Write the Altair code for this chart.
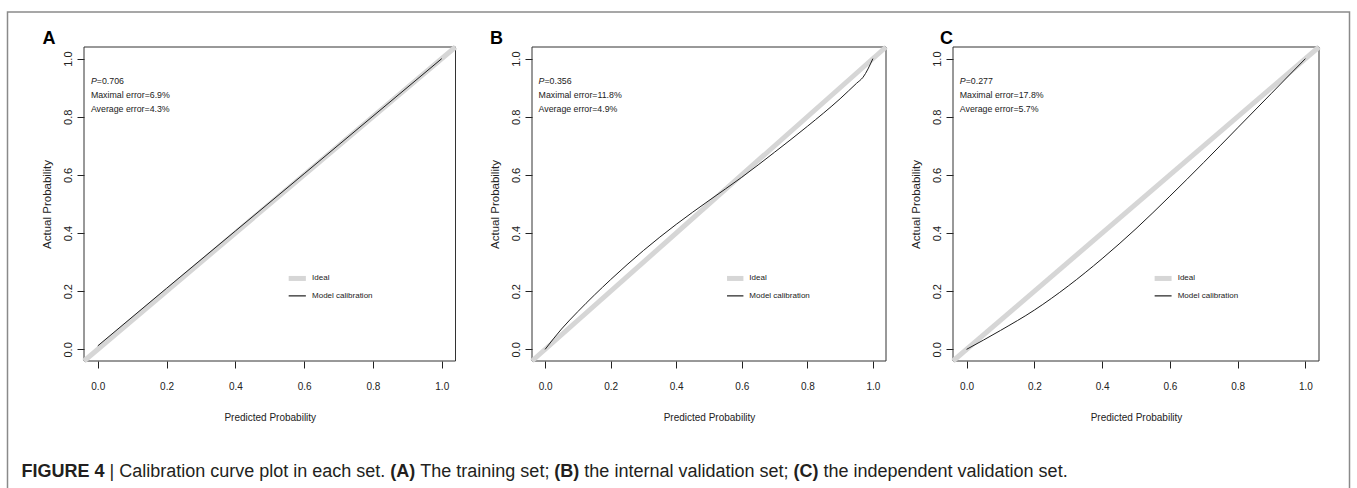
import altair as alt
import pandas as pd

# ---------------- data ----------------
panel_letters = ["A", "B", "C"]
p_values = ["0.706", "0.356", "0.277"]
max_errors = ["6.9%", "11.8%", "17.8%"]
avg_errors = ["4.3%", "4.9%", "5.7%"]

# model calibration curves (predicted, actual)
a_pred = [0.0, 0.2, 0.4, 0.6, 0.8, 1.0]
a_act = [0.012, 0.21, 0.407, 0.604, 0.802, 1.0]

b_pred = [0.0, 0.05, 0.1, 0.2, 0.3, 0.4, 0.5, 0.6, 0.7, 0.8, 0.9, 0.95, 0.97, 1.0]
b_act = [0.0, 0.07, 0.13, 0.24, 0.34, 0.43, 0.512, 0.592, 0.678, 0.767, 0.862, 0.915, 0.936, 1.0]

c_pred = [0.0, 0.1, 0.2, 0.3, 0.4, 0.5, 0.6, 0.7, 0.8, 0.9, 1.0]
c_act = [0.0, 0.065, 0.135, 0.218, 0.312, 0.415, 0.527, 0.643, 0.762, 0.881, 1.0]

ideal_pred = [-0.04, 1.04]
ideal_act = [-0.04, 1.04]

tick_values = [0.0, 0.2, 0.4, 0.6, 0.8, 1.0]
legend_labels = ["Ideal", "Model calibration"]
x_title = "Predicted Probability"
y_title = "Actual Probability"

caption_parts = [
    ("FIGURE 4", True),
    (" | Calibration curve plot in each set. ", False),
    ("(A)", True),
    (" The training set; ", False),
    ("(B)", True),
    (" the internal validation set; ", False),
    ("(C)", True),
    (" the independent validation set.", False),
]

# ---------------- layout ----------------
W, H = 1357, 488
DOMAIN = [-0.04, 1.04]
X_RANGES = [[84, 455.5], [532, 886], [953, 1319]]
Y_RANGE = [361, 47]
LETTER_POS = [(42.5, 43.5), (490, 43.5), (940, 43.5)]
ANNOT_X = -0.02
ANNOT_Y = [0.922, 0.874, 0.827]
LEG_SW_X = [0.555, 0.605]
LEG_TXT_X = 0.623
LEG_Y = [0.244, 0.184]

SANS = "Liberation Sans, Arial, sans-serif"
INK = "#222222"


def x_enc(field, xr):
    axis = alt.Axis(
        orient="bottom", offset=-(H - Y_RANGE[0]), values=tick_values, format=".1f",
        domain=False, grid=False, tickSize=7, tickColor=INK, tickWidth=1,
        labelFont=SANS, labelFontSize=10, labelColor=INK, labelBaseline="middle",
        labelPadding=18, labelFlush=False, labelOverlap=False,
        title=x_title, titleFont=SANS, titleFontSize=10, titleFontWeight="normal",
        titleColor=INK, titleY=56, titleBaseline="middle",
    )
    return alt.X(f"{field}:Q", scale=alt.Scale(domain=DOMAIN, range=xr, nice=False, zero=False),
                 axis=axis)


def y_enc(field, xr):
    axis = alt.Axis(
        orient="left", offset=-xr[0], values=tick_values, format=".1f",
        domain=False, grid=False, tickSize=7, tickColor=INK, tickWidth=1,
        labelFont=SANS, labelFontSize=11, labelColor=INK, labelAngle=270,
        labelAlign="center", labelBaseline="middle", labelPadding=9,
        labelFlush=False, labelOverlap=False,
        title=y_title, titleFont=SANS, titleFontSize=11.5, titleFontWeight="normal",
        titleColor=INK, titleAngle=270, titleX=-36.5, titleBaseline="middle",
    )
    return alt.Y(f"{field}:Q", scale=alt.Scale(domain=DOMAIN, range=Y_RANGE, nice=False, zero=False),
                 axis=axis)


def panel(i, pred, act):
    xr = X_RANGES[i]
    box_df = pd.DataFrame({"x": [DOMAIN[0]], "x1": [DOMAIN[1]], "y": [DOMAIN[0]], "y1": [DOMAIN[1]]})
    box = alt.Chart(box_df).mark_rect(fillOpacity=0, stroke="#333333", strokeWidth=1).encode(
        x=x_enc("x", xr), x2="x1:Q", y=y_enc("y", xr), y2="y1:Q"
    )
    ideal = alt.Chart(pd.DataFrame({"x": ideal_pred, "y": ideal_act})).mark_line(
        color="#d6d6d6", strokeWidth=5, strokeCap="butt"
    ).encode(x=x_enc("x", xr), y=y_enc("y", xr))
    model = alt.Chart(pd.DataFrame({"x": pred, "y": act})).mark_line(
        color="#1e1e1e", strokeWidth=1, interpolate="monotone"
    ).encode(x=x_enc("x", xr), y=y_enc("y", xr))

    p_df = pd.DataFrame({"x": [ANNOT_X], "y": [ANNOT_Y[0]], "t": ["P"], "v": ["=" + p_values[i]]})
    p_letter = alt.Chart(p_df).mark_text(align="left", baseline="middle", font=SANS, fontSize=8.8,
                                         fontStyle="italic", color=INK).encode(
        x=x_enc("x", xr), y=y_enc("y", xr), text="t:N")
    p_val = alt.Chart(p_df).mark_text(align="left", baseline="middle", font=SANS, fontSize=8.8,
                                      dx=5.9, color=INK).encode(
        x=x_enc("x", xr), y=y_enc("y", xr), text="v:N")
    err_df = pd.DataFrame({
        "x": [ANNOT_X, ANNOT_X], "y": ANNOT_Y[1:],
        "t": ["Maximal error=" + max_errors[i], "Average error=" + avg_errors[i]],
    })
    errs = alt.Chart(err_df).mark_text(align="left", baseline="middle", font=SANS, fontSize=8.8,
                                       color=INK).encode(
        x=x_enc("x", xr), y=y_enc("y", xr), text="t:N")

    sw_ideal = alt.Chart(pd.DataFrame({"x": [LEG_SW_X[0]], "x2": [LEG_SW_X[1]], "y": [LEG_Y[0]]})).mark_rule(
        color="#d6d6d6", strokeWidth=5).encode(x=x_enc("x", xr), x2="x2:Q", y=y_enc("y", xr))
    sw_model = alt.Chart(pd.DataFrame({"x": [LEG_SW_X[0]], "x2": [LEG_SW_X[1]], "y": [LEG_Y[1]]})).mark_rule(
        color="#1e1e1e", strokeWidth=1.2).encode(x=x_enc("x", xr), x2="x2:Q", y=y_enc("y", xr))
    leg_txt = alt.Chart(pd.DataFrame({"x": [LEG_TXT_X] * 2, "y": LEG_Y, "t": legend_labels})).mark_text(
        align="left", baseline="middle", font=SANS, fontSize=8, color=INK).encode(
        x=x_enc("x", xr), y=y_enc("y", xr), text="t:N")

    return alt.layer(box, ideal, model, p_letter, p_val, errs, sw_ideal, sw_model, leg_txt)


panels = [panel(0, a_pred, a_act), panel(1, b_pred, b_act), panel(2, c_pred, c_act)]

one = pd.DataFrame({"k": [0]})
border = alt.Chart(one).mark_rect(fillOpacity=0, stroke="#8a8a8a", strokeWidth=1.5).encode(
    x=alt.value(7.5), x2=alt.value(1349.5), y=alt.value(12), y2=alt.value(520))

letters = [
    alt.Chart(pd.DataFrame({"t": [lab]})).mark_text(
        align="left", baseline="alphabetic", font=SANS, fontSize=18, fontWeight="bold", color="#000000"
    ).encode(x=alt.value(pos[0]), y=alt.value(pos[1]), text="t:N")
    for lab, pos in zip(panel_letters, LETTER_POS)
]

# caption: mixed bold / regular runs, placed with Helvetica metrics
REG = {' ': 278, '(': 333, ')': 333, ',': 278, '.': 278, ';': 278, ':': 278, '|': 260, '-': 333}
BOLD = {' ': 278, '(': 333, ')': 333, '|': 280, '.': 278}
for d in "0123456789":
    REG[d] = 556
    BOLD[d] = 556
REG.update(dict(zip("ABCDEFGHIJKLMNOPQRSTUVWXYZ",
                    [667, 667, 722, 722, 667, 611, 778, 722, 278, 500, 667, 556, 833, 722, 778, 667, 778, 722,
                     667, 611, 722, 667, 944, 667, 667, 611])))
REG.update(dict(zip("abcdefghijklmnopqrstuvwxyz",
                    [556, 556, 500, 556, 556, 278, 556, 556, 222, 222, 500, 222, 833, 556, 556, 556, 556, 333,
                     500, 278, 556, 500, 722, 500, 500, 500])))
BOLD.update(dict(zip("ABCDEFGHIJKLMNOPQRSTUVWXYZ",
                     [722, 722, 722, 722, 667, 611, 778, 722, 278, 556, 722, 611, 833, 722, 778, 667, 778, 722,
                      667, 611, 722, 667, 944, 667, 667, 611])))
CAP_FS = 18
CAP_X0 = 21.5
CAP_Y = 477
cap_layers = []
cx = CAP_X0
for text, bold in caption_parts:
    table = BOLD if bold else REG
    lead = len(text) - len(text.lstrip(" "))
    cx += lead * table[' '] * CAP_FS / 1000
    core = text.strip(" ")
    cap_layers.append(
        alt.Chart(pd.DataFrame({"t": [core]})).mark_text(
            align="left", baseline="alphabetic", font=SANS, fontSize=CAP_FS,
            fontWeight="bold" if bold else "normal", color="#231f20"
        ).encode(x=alt.value(round(cx, 2)), y=alt.value(CAP_Y), text="t:N")
    )
    cx += sum(table.get(ch, 556) for ch in core) * CAP_FS / 1000
    trail = len(text) - len(text.rstrip(" "))
    cx += trail * table[' '] * CAP_FS / 1000

chart = alt.layer(*panels, border, *letters, *cap_layers).resolve_scale(
    x="independent", y="independent"
).properties(
    width=W, height=H, padding=0, autosize=alt.AutoSizeParams(type="none"), background="white"
).configure_view(stroke=None)

chart.save("out.html", embed_options={"renderer": "svg", "actions": False})
